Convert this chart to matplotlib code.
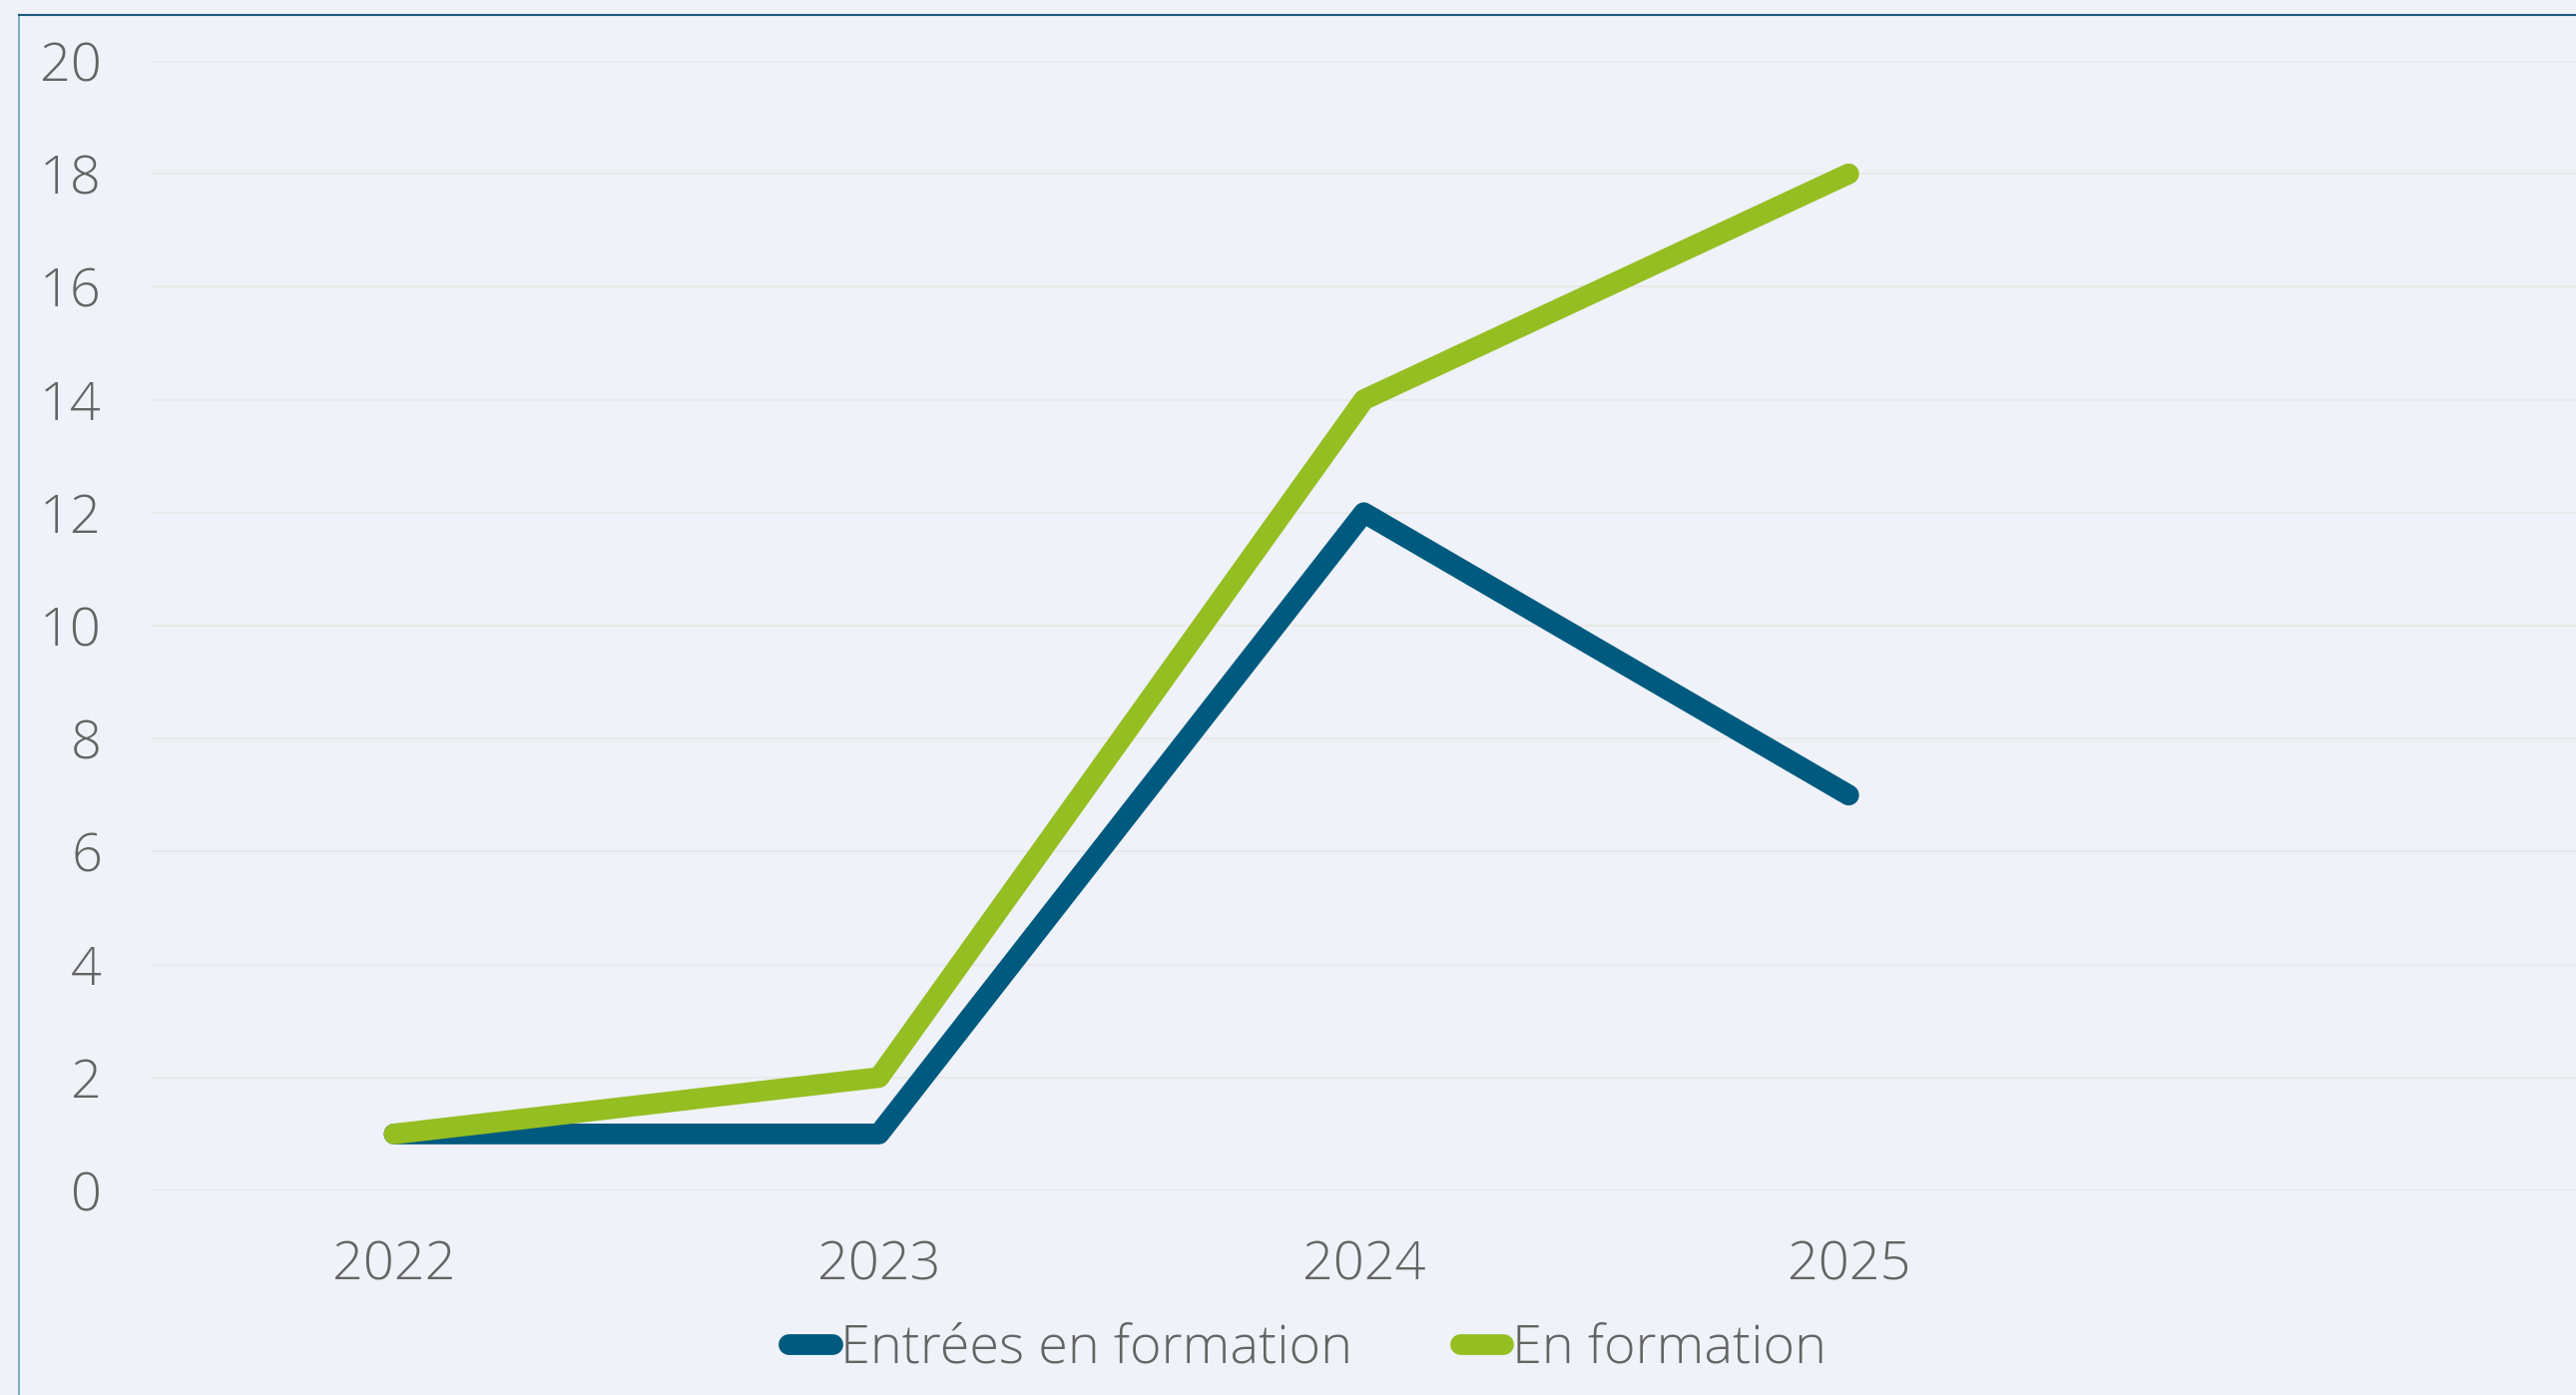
import matplotlib
matplotlib.use('Agg')
import matplotlib.pyplot as plt
from matplotlib.lines import Line2D

# data
years = ['2022', '2023', '2024', '2025', '']
entrees = [1, 1, 12, 7]
en_formation = [1, 2, 14, 18]
series_names = ['Entrées en formation', 'En formation']

BG = '#eff2f9'
BLUE = '#005a7f'
GREEN = '#95be22'
GREY = '#646464'
FS = 39

plt.rcParams['font.family'] = ['Open Sans', 'DejaVu Sans']

W, H = 2581, 1398
fig = plt.figure(figsize=(W / 100, H / 100), dpi=100, facecolor=BG)
ax = fig.add_axes([152 / W, 1 - 1193 / H, 1 - 152 / W, (1193 - 61) / H])
ax.set_facecolor(BG)

x = list(range(len(years)))
ax.plot(x[:len(entrees)], entrees, color=BLUE, lw=15,
        solid_capstyle='round', solid_joinstyle='round', zorder=3)
ax.plot(x[:len(en_formation)], en_formation, color=GREEN, lw=15,
        solid_capstyle='round', solid_joinstyle='round', zorder=4)

ax.set_xlim(-0.5, len(years) - 0.5)
ax.set_ylim(0, 20)
ax.set_yticks(range(0, 21, 2))
ax.set_xticks(x[:4])
ax.set_xticklabels(years[:4])
ax.grid(axis='y', color='#e9e9e9', lw=1.5, zorder=0)
ax.tick_params(length=0, labelsize=FS, labelcolor=GREY)
ax.tick_params(axis='y', pad=36)
ax.tick_params(axis='x', pad=35)
for lab in ax.get_xticklabels() + ax.get_yticklabels():
    lab.set_fontweight('light')
for s in ax.spines.values():
    s.set_visible(False)

# frame lines of the chart box (left and top only are visible)
fig.add_artist(Line2D([19 / W, 19 / W], [0, 1 - 15 / H], transform=fig.transFigure,
                      color='#6f9cc0', lw=1.2))
fig.add_artist(Line2D([19 / W, 1], [1 - 15 / H, 1 - 15 / H], transform=fig.transFigure,
                      color='#1d5a80', lw=1.5))

handles = [Line2D([], [], color=BLUE, lw=15, solid_capstyle='round'),
           Line2D([], [], color=GREEN, lw=15, solid_capstyle='round')]
leg = fig.legend(handles, series_names, loc='center', bbox_to_anchor=(1310 / W, 1 - 1352 / H),
                 ncol=2, frameon=False, handlelength=0.8, handletextpad=0.15,
                 columnspacing=2.0, labelcolor=GREY, prop={'size': FS, 'weight': 'light'})

fig.savefig('out.png', dpi=100, facecolor=BG)
